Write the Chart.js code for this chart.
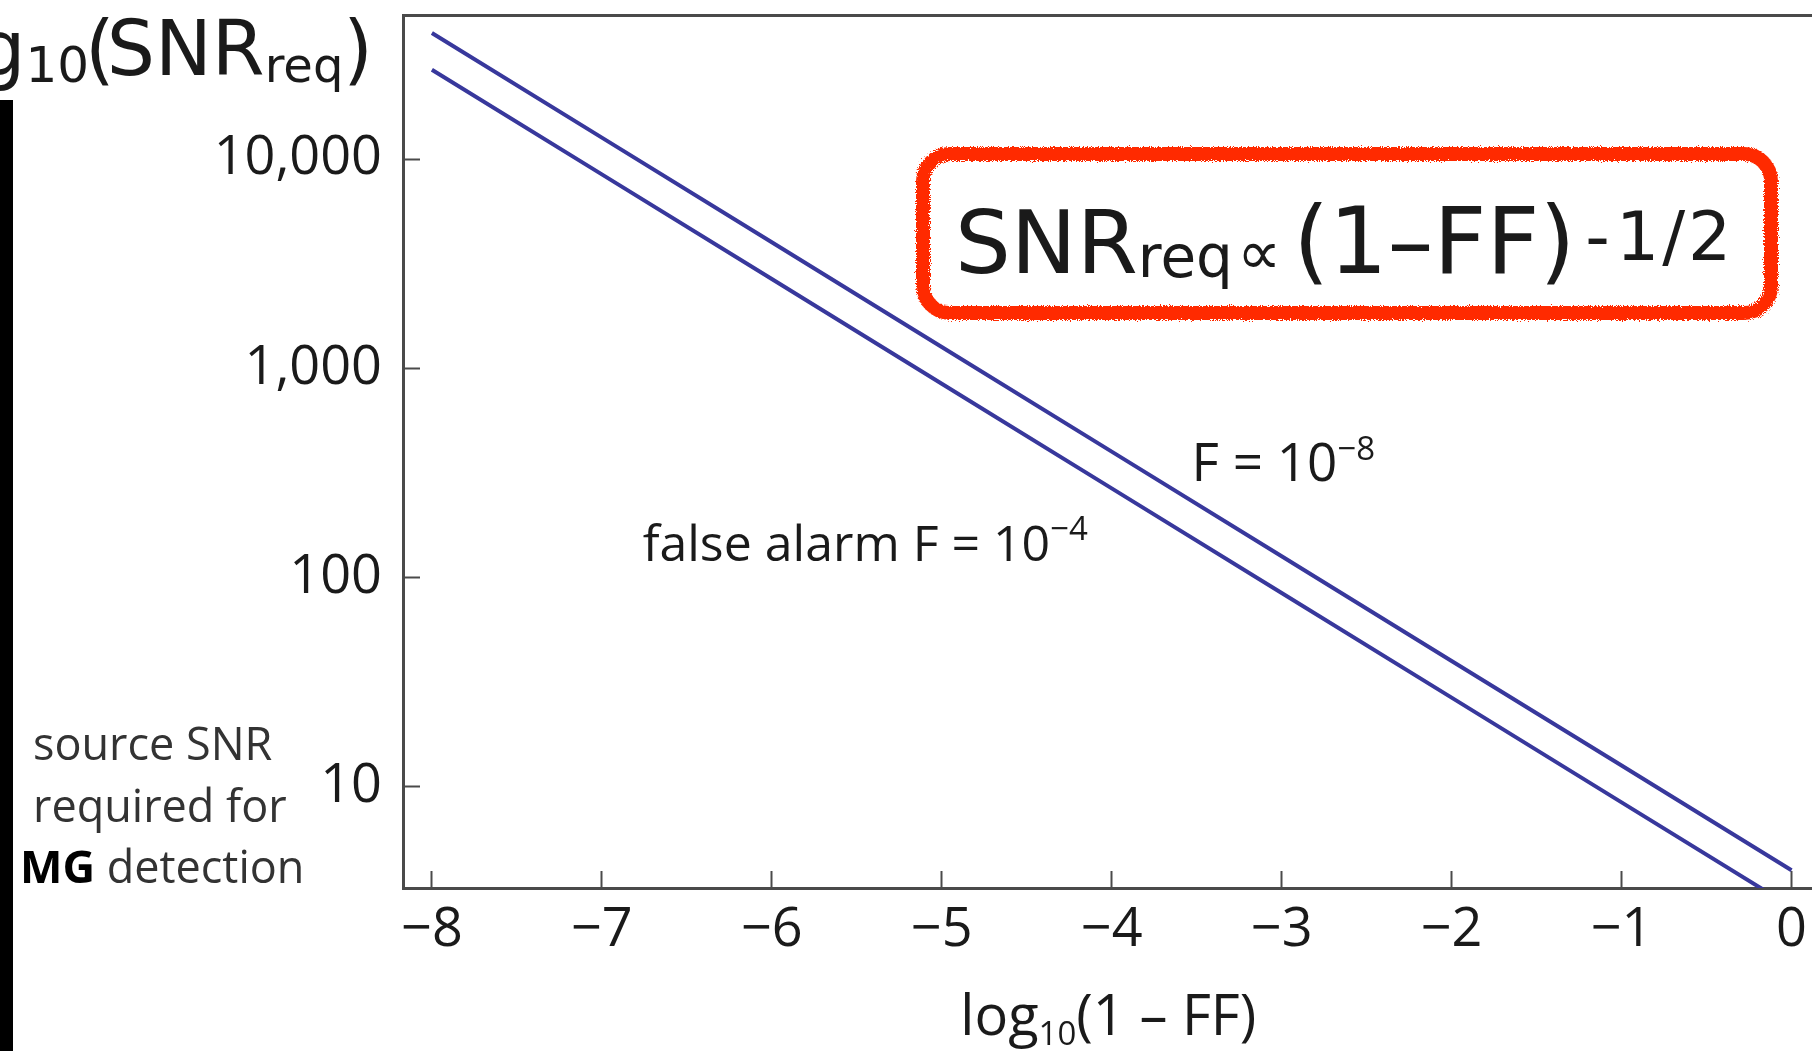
<!DOCTYPE html>
<html>
<head>
<meta charset="utf-8">
<script src="https://cdn.jsdelivr.net/npm/chart.js@4.4.1/dist/chart.umd.min.js"></script>
<style>
  html, body { margin: 0; padding: 0; background: #fff; overflow: hidden; }
  #page { position: relative; width: 1812px; height: 1051px; overflow: hidden; background: #fff; }
  #plot { position: absolute; left: 0; top: 0; width: 1834px; height: 1051px; }
  #bar { position: absolute; left: 0; top: 100px; width: 13px; height: 951px; background: #000; }
  #box {
    position: absolute; left: 916px; top: 147px; width: 834px; height: 145px;
    border: 14px solid #ff2a00; border-radius: 34px; filter: url(#chalk);
  }
</style>
</head>
<body>
<svg width="0" height="0" style="position:absolute">
  <filter id="chalk">
    <feTurbulence type="fractalNoise" baseFrequency="0.9" numOctaves="2" seed="3" result="n"/>
    <feDisplacementMap in="SourceGraphic" in2="n" scale="6"/>
  </filter>
</svg>
<div id="page">
  <div id="plot"><canvas id="chart"></canvas></div>
  <div id="bar"></div>
  <div id="box"></div>
</div>
<script>
// log10(1 - FF) on x, SNR required on y (log scale)
const logOneMinusFF = [-8, -7, -6, -5, -4, -3, -2, -1, 0];
const snrF8 = [40000, 12650, 4000, 1265, 400, 126.5, 40, 12.65, 4.0];   // F = 10^-8
const snrF4 = [26700, 8440, 2670, 844, 267, 84.4, 26.7, 8.44, 2.67];   // F = 10^-4
const xTicks = [-8, -7, -6, -5, -4, -3, -2, -1, 0];
const yTicks = [10, 100, 1000, 10000];

const ink = '#1a1a1a';
const axisColor = '#4a4a4a';
const lineColor = '#38389c';

function drawRich(ctx, x, y, parts, align) {
  const widths = parts.map(p => {
    ctx.font = (p.weight || 'normal') + ' ' + p.size + 'px ' + (p.family || "'Open Sans'");
    return ctx.measureText(p.t).width + (p.gap || 0);
  });
  const total = widths.reduce((a, b) => a + b, 0);
  let cx = align === 'right' ? x - total : align === 'center' ? x - total / 2 : x;
  parts.forEach((p, i) => {
    ctx.font = (p.weight || 'normal') + ' ' + p.size + 'px ' + (p.family || "'Open Sans'");
    ctx.fillStyle = p.color || ink;
    ctx.fillText(p.t, cx, y + (p.dy || 0));
    cx += widths[i];
  });
}

const slideText = {
  id: 'slideText',
  afterDraw(chart) {
    const ctx = chart.ctx;
    const sx = chart.scales.x, sy = chart.scales.y;
    ctx.save();
    ctx.textBaseline = 'alphabetic';

    // curve labels
    drawRich(ctx, sx.getPixelForValue(-3.53), sy.getPixelForValue(290), [
      { t: 'F = 10', size: 53 },
      { t: '\u22128', size: 33, dy: -21 }
    ]);
    drawRich(ctx, sx.getPixelForValue(-6.76), sy.getPixelForValue(120), [
      { t: 'false alarm F = 10', size: 50 },
      { t: '\u22124', size: 33, dy: -21 }
    ]);

    // x axis title
    drawRich(ctx, sx.getPixelForValue(-4.02), 1035, [
      { t: 'log', size: 56 },
      { t: '10', size: 33, dy: 10 },
      { t: '(1 \u2013 FF)', size: 56 }
    ], 'center');

    // slide overlay: y quantity
    const dj = "'DejaVu Sans'";
    drawRich(ctx, 373, 75, [
      { t: 'log', size: 76, family: dj },
      { t: '10', size: 50, family: dj, dy: 7, gap: -4 },
      { t: '(', size: 76, family: dj, gap: -8 },
      { t: 'SNR', size: 76, family: dj },
      { t: 'req', size: 48, family: dj, dy: 7 },
      { t: ')', size: 76, family: dj }
    ], 'right');

    // left description
    drawRich(ctx, 33, 760, [{ t: 'source SNR', size: 45, color: '#333' }]);
    drawRich(ctx, 33, 822, [{ t: 'required for', size: 45, color: '#333' }]);
    drawRich(ctx, 20, 883, [
      { t: 'MG', size: 45, weight: 'bold', color: '#000' },
      { t: ' detection', size: 45, color: '#333' }
    ]);

    // boxed formula
    drawRich(ctx, 955, 273, [
      { t: 'SNR', size: 88, family: dj },
      { t: 'req', size: 58, family: dj, dy: 4, gap: 4 },
      { t: '\u221d', size: 62, family: dj, dy: 1, gap: 12 },
      { t: '(1\u2013FF)', size: 92, family: dj, gap: 10 },
      { t: '-', size: 68, family: dj, dy: -13, gap: 6 },
      { t: '1', size: 68, family: dj, dy: -13, gap: 3 },
      { t: '/', size: 68, family: dj, dy: -13, gap: 3 },
      { t: '2', size: 68, family: dj, dy: -13 }
    ]);
    ctx.restore();
  }
};

new Chart(document.getElementById('chart'), {
  type: 'line',
  data: {
    datasets: [
      {
        label: 'F = 10^-8',
        data: logOneMinusFF.map((v, i) => ({ x: v, y: snrF8[i] })),
        borderColor: lineColor,
        borderWidth: 4,
        pointRadius: 0,
        tension: 0
      },
      {
        label: 'F = 10^-4',
        data: logOneMinusFF.map((v, i) => ({ x: v, y: snrF4[i] })),
        borderColor: lineColor,
        borderWidth: 4,
        pointRadius: 0,
        tension: 0
      }
    ]
  },
  options: {
    responsive: true,
    maintainAspectRatio: false,
    animation: false,
    layout: { padding: { top: 15, left: 0, right: 0, bottom: 0 } },
    plugins: { legend: { display: false }, tooltip: { enabled: false } },
    scales: {
      x: {
        type: 'linear',
        position: 'bottom',
        min: -8.17,
        max: 0.25,
        afterBuildTicks: s => { s.ticks = xTicks.map(v => ({ value: v })); },
        afterFit: s => { s.height = 163; s.paddingLeft = 0; s.paddingRight = 0; },
        ticks: {
          color: ink,
          font: { family: "'Open Sans'", size: 54 },
          padding: 27,
          maxRotation: 0,
          callback: v => String(v).replace('-', '\u2212')
        },
        grid: { drawOnChartArea: false, tickLength: -17, tickWidth: 2, tickColor: axisColor },
        border: { color: axisColor, width: 3 }
      },
      xTop: {
        type: 'linear',
        position: 'top',
        afterFit: s => { s.height = 0; s.paddingLeft = 0; s.paddingRight = 0; },
        ticks: { display: false },
        grid: { drawOnChartArea: false, drawTicks: false },
        border: { color: axisColor, width: 3 }
      },
      y: {
        type: 'logarithmic',
        position: 'left',
        min: 3.29,
        max: 48750,
        afterBuildTicks: s => { s.ticks = yTicks.map(v => ({ value: v })); },
        afterFit: s => { s.width = 403; s.paddingTop = 0; s.paddingBottom = 0; },
        ticks: {
          color: ink,
          font: { family: "'Open Sans'", size: 54 },
          padding: 38,
          callback: v => v.toLocaleString('en-US')
        },
        grid: { drawOnChartArea: false, tickLength: -17, tickWidth: 2, tickColor: axisColor },
        border: { color: axisColor, width: 3 }
      }
    }
  },
  plugins: [slideText]
});
</script>
</body>
</html>
